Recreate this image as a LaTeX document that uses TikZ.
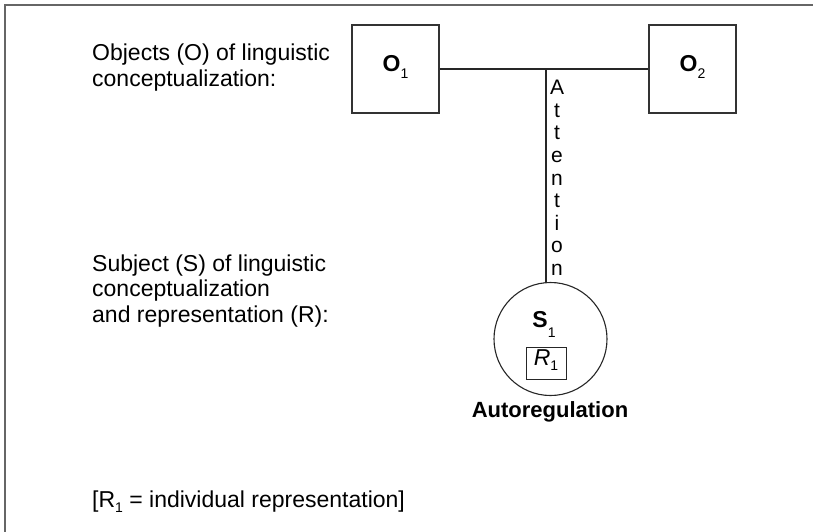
\documentclass[tikz,border=0pt]{standalone}
\usepackage{fontspec}
\setmainfont{Liberation Sans}
% subscript set low and small, as in the figure
\newcommand\lowsub[2][7pt]{\raisebox{-#1}{\fontsize{14}{14}\selectfont #2}}
\begin{document}
\begin{tikzpicture}[x=1pt,y=-1pt,
  every node/.style={font=\fontsize{23}{26}\selectfont, inner sep=0pt},
  objbox/.style={draw=black!80, line width=1.1pt, minimum width=87pt, minimum height=88pt},
  link/.style={draw=black!85, line width=1.1pt},
  label/.style={align=left, anchor=base west}]
\useasboundingbox (0,0) rectangle (813,532);
% open frame (top and left edges)
\draw[black!60, line width=2pt] (813,5) -- (5,5) -- (5,532);

% objects of conceptualization
\node[objbox] (o1) at (395.5,69) {};
\node[objbox] (o2) at (692.5,69) {};
\node[anchor=base] (o1lab) at (o1.center |- 0,72) {\textbf{O}\lowsub{1}};
\node[anchor=base] (o2lab) at (o2.center |- 0,72) {\textbf{O}\lowsub{2}};
\draw[link] (o1.east) -- (o2.west);
\coordinate (att) at (546,70);

% subject with its representation
\node[draw=black!85, line width=1.1pt, circle, minimum size=113pt] (s1) at (550.5,339) {};
\node[anchor=base] (s1lab) at (544,327) {\textbf{S}\lowsub[10pt]{1}};
\node[draw=black!85, line width=0.9pt, minimum width=40pt, minimum height=32pt] (r1) at (546,363) {};
\node[anchor=base] (r1lab) at (546,365) {\textit{R}\lowsub[5pt]{1}};
\node[anchor=base, font=\bfseries\fontsize{22}{26}\selectfont] (auto) at (550,417) {Autoregulation};

% attention link
\draw[link] (att) -- (att |- s1.north);
\node[align=center, anchor=north, font=\fontsize{21}{22.6}\selectfont] (attn) at (557,80)
  {A\\t\\t\\e\\n\\t\\i\\o\\n};

% left-hand labels (anchored at the baseline of their last line)
\node[label] (lo) at (92,87) {Objects (O) of linguistic\\conceptualization:};
\node[label, font=\fontsize{23}{25.5}\selectfont] (ls) at (92,322) {Subject (S) of linguistic\\conceptualization\\and representation (R):};
\node[label] (lr) at (92,507) {[R\lowsub[5pt]{1} = individual representation]};
\end{tikzpicture}
\end{document}
